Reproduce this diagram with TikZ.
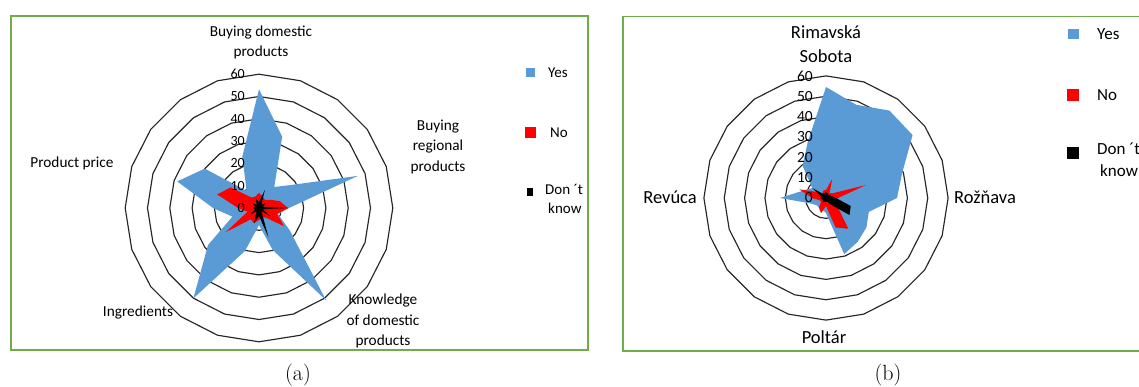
\documentclass[tikz,border=0pt]{standalone}
\usepackage{fontspec}
\newfontfamily\calib{Carlito}
\definecolor{yesc}{HTML}{5B9BD5}
\definecolor{noc}{HTML}{FF0000}
\definecolor{dkc}{HTML}{000000}
\definecolor{framec}{HTML}{70AD47}
\newcommand\fa{\calib\fontsize{15.3}{20.5}\selectfont}
\newcommand\fb{\calib\fontsize{18.5}{24}\selectfont}
\newcommand\fta{\calib\fontsize{14}{16}\selectfont}
\newcommand\ftb{\calib\fontsize{15.5}{17}\selectfont}
\newcommand\fla{\calib\fontsize{15}{19}\selectfont}
\newcommand\flb{\calib\fontsize{17}{22}\selectfont}
\tikzset{
  frame/.style={draw=framec, line width=1.8pt},
  ring/.style={draw=black!85, line width=1.15pt, line join=round},
  lbla/.style={font=\fa, align=center, inner sep=0pt},
  lblb/.style={font=\fb, align=center, inner sep=0pt},
  ticka/.style={font=\fta, inner sep=0pt, anchor=east},
  tickb/.style={font=\ftb, inner sep=0pt, anchor=east},
  lega/.style={font=\fla, align=left, inner sep=0pt, anchor=west},
  legb/.style={font=\flb, align=left, inner sep=0pt, anchor=west},
  mk/.style={inner sep=0pt, draw=none, rectangle},
  capt/.style={font=\fontsize{22}{24}\selectfont, inner sep=0pt}
}
\begin{document}
\begin{tikzpicture}[x=1pt,y=-1pt]
\useasboundingbox (0,0) rectangle (1139,387);
\clip (0,0) rectangle (1139,387);
\fill[white] (0,0) rectangle (1139,387);
% ---------------- panel (a) ----------------
\draw[frame] (11,16) rectangle (588,350);
\begin{scope}[shift={(259,208)}]
  \foreach \i in {1,...,6} {
    \draw[ring] (-90:{\i*22.3}) \foreach \k in {1,...,19} { -- ({18*\k-90}:{\i*22.3}) } -- cycle;
  }
  \fill[yesc] (-90:118.7) \foreach \r [count=\k] in {75,26,39,104,30,20,38,114,44,17,45,111.6,63,28,46,86,67,21,54} { -- ({18*\k-90}:\r) } -- cycle;
  \fill[noc] (-90:15) \foreach \r [count=\k] in {12,10,14,22,29,19,31,12,10,12,16,14,41,12,21,44,35,13,12} { -- ({18*\k-90}:\r) } -- cycle;
  \fill[dkc] (-90:6) \foreach \r [count=\k] in {19,4,8,4,29,4,14,4,31,8,16,4,10,4,6,4,8,4,10} { -- ({18*\k-90}:\r) } -- cycle;
\end{scope}
\foreach \v [count=\i from 0] in {0,10,20,30,40,50,60} {
  \node[ticka] (ta\i) at (245,{208-22.3*\i}) {\v};
}
\node[lbla] (la1) at (261,42.5) {Buying domestic\\products};
\node[lbla] (la2) at (438,146.5) {Buying\\regional\\products};
\node[lbla] (la3) at (72,163) {Product price};
\node[lbla] (la4) at (138,313) {Ingredients};
\node[lbla] (la5) at (383,321) {Knowledge\\of domestic\\products};
\node[mk, fill=yesc, minimum size=9pt] (mya) at (530,73) {};
\node[lega] (tya) at (548,73) {Yes};
\node[mk, fill=noc, minimum size=11pt] (mna) at (530,133) {};
\node[lega] (tna) at (550,133) {No};
\node[mk, fill=dkc, minimum width=6.5pt, minimum height=8pt] (mda) at (530,192) {};
\node[lega] (tda1) at (545,189) {Don ´t};
\node[lega] (tda2) at (548,208) {know};
\node[capt] (capa) at (298,375) {(a)};
% ---------------- panel (b) ----------------
\draw[frame] (623,16.5) rectangle (1160,351);
\begin{scope}[shift={(826,198)}]
  \foreach \i in {1,...,6} {
    \draw[ring] (-90:{\i*20.35}) \foreach \k in {1,...,19} { -- ({18*\k-90}:{\i*20.35}) } -- cycle;
  }
  \fill[yesc] (-90:111) \foreach \r [count=\k] in {98,108,107,80,71,45,50,54,59,15,12,12,12,17,46,24,17,40,59} { -- ({18*\k-90}:\r) } -- cycle;
  \fill[noc] (-90:8) \foreach \r [count=\k] in {20,6,8,42,12,8,14,38,31,8,16,12,6,7,14,28,10,6,8} { -- ({18*\k-90}:\r) } -- cycle;
  \fill[dkc] (-90:6) \foreach \r [count=\k] in {5,4,5,6,10,26,29,8,4,4,4,5,4,4,6,5,17,5,5} { -- ({18*\k-90}:\r) } -- cycle;
\end{scope}
\foreach \v [count=\i from 0] in {0,10,20,30,40,50,60} {
  \node[tickb] (tb\i) at (813,{198-20.35*\i}) {\v};
}
\node[lblb] (lb1) at (826,44) {Rimavská\\Sobota};
\node[lblb, anchor=west] (lb2) at (954,197) {Rožňava};
\node[lblb] (lb3) at (670,197) {Revúca};
\node[lblb] (lb4) at (824,337) {Poltár};
\node[mk, fill=yesc, minimum width=11pt, minimum height=10pt] (myb) at (1073,34) {};
\node[legb] (tyb) at (1097,34) {Yes};
\node[mk, fill=noc, minimum size=12pt] (mnb) at (1073,95) {};
\node[legb] (tnb) at (1097,95) {No};
\node[mk, fill=dkc, minimum size=12pt] (mdb) at (1073,153) {};
\node[legb] (tdb1) at (1097,149) {Don ´t};
\node[legb] (tdb2) at (1100,171) {know};
\node[capt] (capb) at (888,375) {(b)};
\end{tikzpicture}
\end{document}
